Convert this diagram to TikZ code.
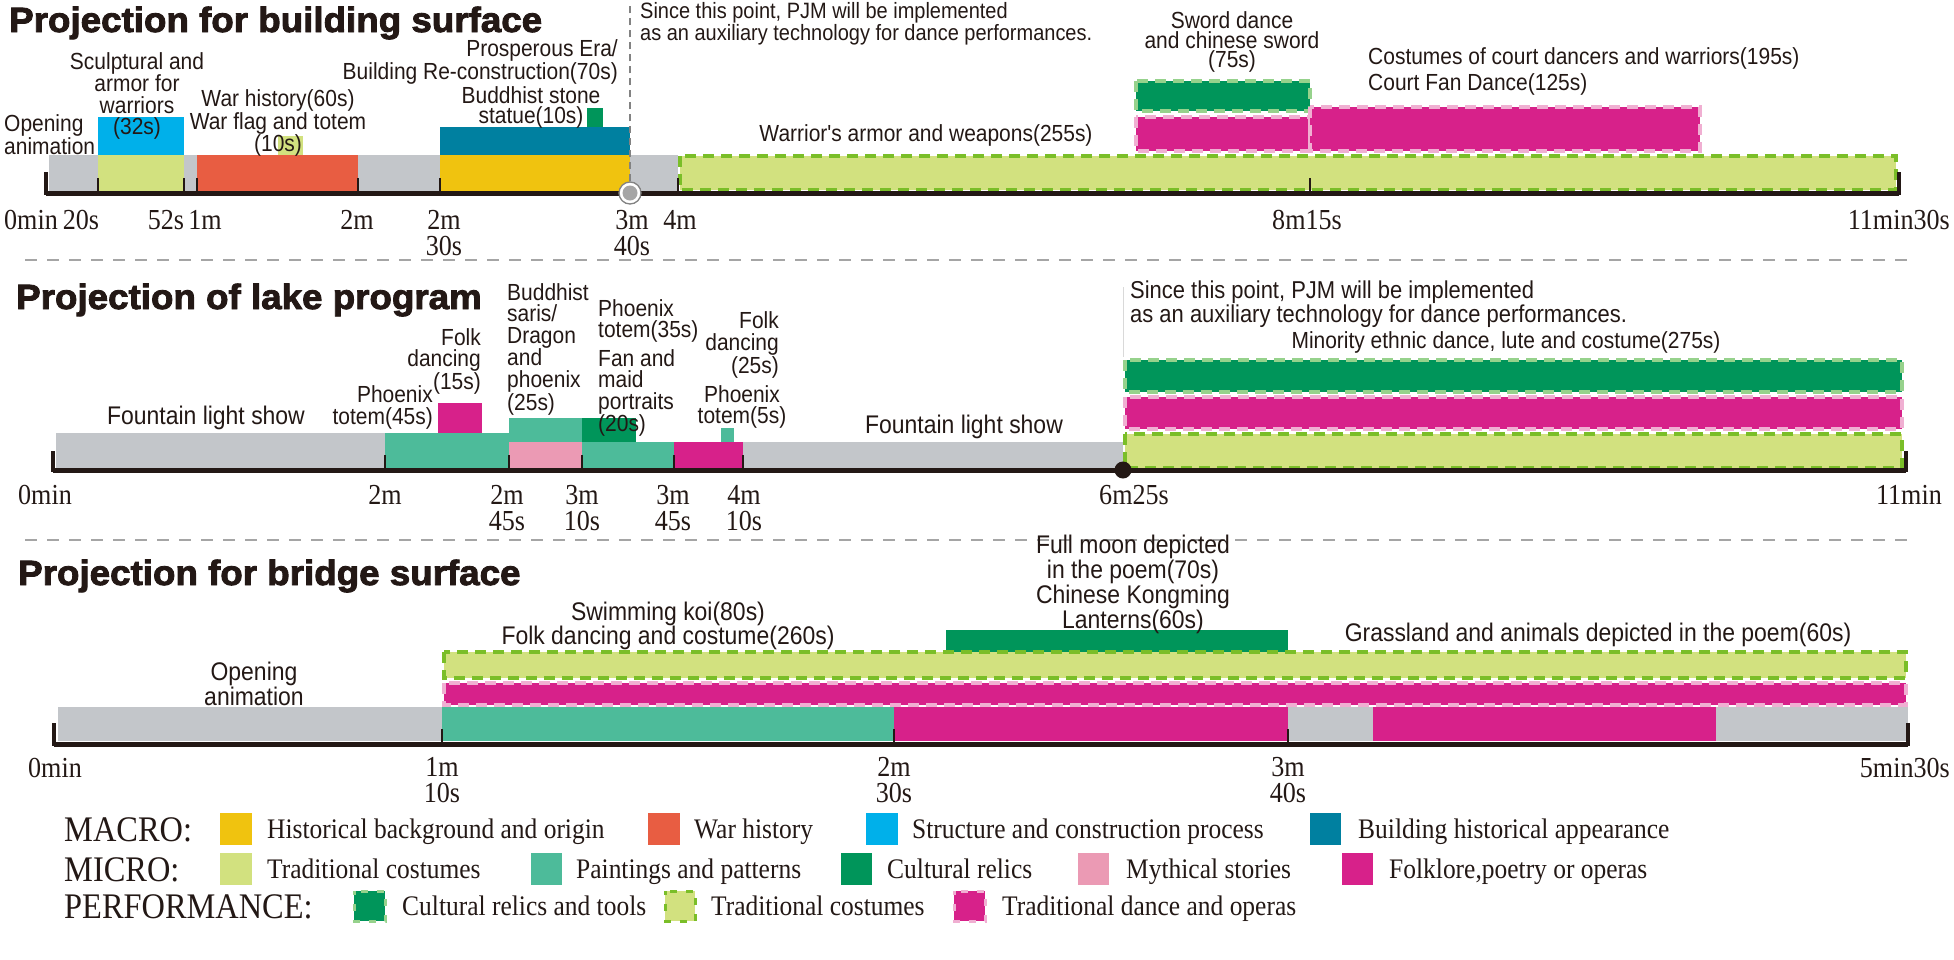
\documentclass[tikz,border=0pt]{standalone}
\usepackage{fontspec}
\setmainfont{Liberation Serif}[FakeStretch=0.9]
\newfontfamily\labfont{Liberation Sans}[FakeStretch=0.9]
\newfontfamily\ttlfont{Liberation Sans}[FakeStretch=1.05,FakeBold=2.5]
\definecolor{cgray}{RGB}{195,198,202}
\definecolor{cyellow}{RGB}{240,195,15}
\definecolor{cred}{RGB}{232,93,66}
\definecolor{cblue}{RGB}{0,176,234}
\definecolor{cteal}{RGB}{0,128,160}
\definecolor{clgreen}{RGB}{210,225,127}
\definecolor{cpaint}{RGB}{77,187,154}
\definecolor{cdgreen}{RGB}{0,149,90}
\definecolor{cpink}{RGB}{235,154,180}
\definecolor{cmag}{RGB}{215,33,138}
\definecolor{bdlg}{RGB}{122,190,40}
\definecolor{bddg}{RGB}{150,210,140}
\definecolor{bdmag}{RGB}{240,175,210}
\definecolor{axiscol}{RGB}{35,24,21}
\definecolor{sepgray}{RGB}{165,165,165}
\definecolor{circfill}{RGB}{165,165,165}
\definecolor{circedge}{RGB}{130,130,130}
\tikzset{
  lab/.style={font=\labfont\fontsize{23.3}{21.5}\selectfont, inner sep=0pt, text=axiscol},
  labbig/.style={font=\labfont\fontsize{25.5}{21}\selectfont, inner sep=0pt, text=axiscol},
  ttl/.style={font=\ttlfont\bfseries\fontsize{35}{36}\selectfont, inner sep=0pt, anchor=base west, text=axiscol},
  tlab/.style={font=\fontsize{29}{26}\selectfont, inner sep=0pt, align=center, text=axiscol},
  leghead/.style={font=\fontsize{36}{36}\selectfont, inner sep=0pt, anchor=base west, text=axiscol},
  legtext/.style={font=\fontsize{28.3}{28}\selectfont, inner sep=0pt, anchor=base west, text=axiscol},
  pdash/.style={line width=3.5pt, dash pattern=on 11pt off 7pt},
  plg/.style={pdash, fill=clgreen, draw=bdlg},
  pdg/.style={pdash, fill=cdgreen, draw=bddg},
  pmg/.style={pdash, fill=cmag, draw=bdmag},
  legdash/.style={line width=3pt, dash pattern=on 7pt off 9pt, dash phase=3.5pt},
  axisline/.style={line width=5pt, draw=axiscol},
  endtick/.style={line width=4pt, draw=axiscol},
  intick/.style={line width=2pt, draw=axiscol},
  sepline/.style={line width=2.5pt, draw=sepgray, dash pattern=on 12pt off 10pt},
  vdash/.style={line width=1.5pt, draw=circedge, dash pattern=on 7pt off 5pt},
}
\begin{document}
\begin{tikzpicture}[x=1pt,y=-1pt]
\useasboundingbox (0,0) rectangle (1954,959);

% ================= Section 1 =================
\node[ttl] (t1) at (9,32) {Projection for building surface};
\fill[cgray] (49,155) rectangle (678,191);
\fill[clgreen] (98,155) rectangle (184,191);
\fill[cblue] (98,117) rectangle (184,155);
\fill[cred] (197,155) rectangle (358,191);
\fill[clgreen] (278,136) rectangle (303,155);
\fill[cyellow] (440,155) rectangle (630,191);
\fill[cteal] (440,127) rectangle (630,155);
\fill[cdgreen] (587,108) rectangle (603,127);
\filldraw[plg] (680,156) rectangle (1896,190);
\filldraw[pdg] (1136,81) rectangle (1310,111);
\filldraw[pmg] (1136,117) rectangle (1310,151);
\filldraw[pmg] (1310,107) rectangle (1700,151);
\coordinate (a1l) at (46,193);
\coordinate (a1r) at (1899,193);
\draw[axisline] (a1l) -- (a1r);
\draw[endtick] (46,172) -- (46,195);
\draw[endtick] (1899,172) -- (1899,195);
\foreach \x in {98,184,197,358,440,678,1310} \draw[intick] (\x,193) -- (\x,178);
\coordinate (v1top) at (630,4);
\node[circle, inner sep=0pt, minimum size=22pt, fill=white, draw=circedge, line width=1.3pt] (c1) at (630,193) {};
\node[circle, inner sep=0pt, minimum size=15pt, fill=circfill] (c1in) at (c1) {};
\draw[vdash] (c1.north) -- (v1top);

\node[lab, anchor=west, align=left] (s1open) at (4,135) {Opening\\animation};
\node[lab, align=center] (s1sculp) at (137,96) {Sculptural and\\armor for\\warriors\\(32s)};
\node[lab, align=center, font=\labfont\fontsize{23.3}{19.5}\selectfont] (s1war) at (278,123) {War history(60s)\\War flag and totem\\(10s)};
\node[lab, anchor=east, align=right, font=\labfont\fontsize{23.3}{20}\selectfont] (s1pros) at (618,62) {Prosperous Era/\\Building Re-construction(70s)};
\node[lab, align=center, font=\labfont\fontsize{23.3}{20}\selectfont] (s1budd) at (531,107) {Buddhist stone\\statue(10s)};
\node[lab, anchor=west, align=left, font=\labfont\fontsize{22.2}{18}\selectfont] (s1since) at (640,24) {Since this point, PJM will be implemented\\as an auxiliary technology for dance performances.};
\node[lab] (s1warrior) at (926,135) {Warrior's armor and weapons(255s)};
\node[lab, align=center, font=\labfont\fontsize{23.3}{19.5}\selectfont] (s1sword) at (1232,42) {Sword dance\\and chinese sword\\(75s)};
\node[lab, anchor=west] (s1cost) at (1368,58) {Costumes of court dancers and warriors(195s)};
\node[lab, anchor=west] (s1fan) at (1368,84) {Court Fan Dance(125s)};

\node[tlab] (k1a) at (31,220) {0min};
\node[tlab] (k1b) at (81,220) {20s};
\node[tlab] (k1c) at (166,220) {52s};
\node[tlab] (k1d) at (205,220) {1m};
\node[tlab] (k1e) at (357,220) {2m};
\node[tlab] (k1f) at (444,233) {2m\\30s};
\node[tlab] (k1g) at (632,233) {3m\\40s};
\node[tlab] (k1h) at (680,220) {4m};
\node[tlab] (k1i) at (1307,220) {8m15s};
\node[tlab, anchor=east] (k1j) at (1950,220) {11min30s};

% ================= Section 2 =================
\coordinate (sp1l) at (25,260);
\coordinate (sp1r) at (1908,260);
\draw[sepline] (sp1l) -- (sp1r);
\node[ttl] (t2) at (16,309) {Projection of lake program};
\fill[cgray] (56,433) rectangle (385,469);
\fill[cpaint] (385,433) rectangle (509,469);
\fill[cmag] (438,403) rectangle (482,433);
\fill[cpaint] (509,418) rectangle (582,442);
\fill[cpink] (509,442) rectangle (582,469);
\fill[cdgreen] (582,418) rectangle (636,442);
\fill[cpaint] (582,442) rectangle (674,469);
\fill[cmag] (674,442) rectangle (743,469);
\fill[cpaint] (721,428) rectangle (734,442);
\fill[cgray] (743,442) rectangle (1123,469);
\filldraw[pdg] (1125,360) rectangle (1902,392);
\filldraw[pmg] (1125,397) rectangle (1902,429);
\filldraw[plg] (1125,434) rectangle (1902,468);
\coordinate (a2l) at (53,470);
\coordinate (a2r) at (1906,470);
\draw[axisline] (a2l) -- (a2r);
\draw[endtick] (53,451) -- (53,472);
\draw[endtick] (1906,451) -- (1906,472);
\foreach \x in {385,509,582,674,743} \draw[intick] (\x,470) -- (\x,455);
\node[circle, inner sep=0pt, minimum size=17pt, fill=axiscol] (d2) at (1123,470) {};
\coordinate (v2top) at (1123,287);
\draw[line width=0.8pt, draw=black!15] (v2top) -- (1123,357);

\node[labbig] (s2f1) at (206,418) {Fountain light show};
\node[lab, anchor=east, align=right] (s2ph45) at (433,407.5) {Phoenix\\totem(45s)};
\node[lab, anchor=east, align=right] (s2folk15) at (481,361.5) {Folk\\dancing\\(15s)};
\node[lab, anchor=west, align=left] (s2budd) at (507,349) {Buddhist\\saris/\\Dragon\\and\\phoenix\\(25s)};
\node[lab, anchor=west, align=left] (s2ph35) at (598,321) {Phoenix\\totem(35s)};
\node[lab, anchor=west, align=left] (s2fan) at (598,393) {Fan and\\maid\\portraits\\(20s)};
\node[lab, anchor=east, align=right] (s2folk25) at (779,345) {Folk\\dancing\\(25s)};
\node[lab, align=center] (s2ph5) at (742,407) {Phoenix\\totem(5s)};
\node[labbig] (s2f2) at (964,427) {Fountain light show};
\node[lab, anchor=west, align=left, font=\labfont\fontsize{24.4}{22}\selectfont] (s2since) at (1130,304) {Since this point, PJM will be implemented\\as an auxiliary technology for dance performances.};
\node[lab] (s2min) at (1506,342) {Minority ethnic dance, lute and costume(275s)};

\node[tlab] (k2a) at (45,495) {0min};
\node[tlab] (k2b) at (385,495) {2m};
\node[tlab] (k2c) at (507,508) {2m\\45s};
\node[tlab] (k2d) at (582,508) {3m\\10s};
\node[tlab] (k2e) at (673,508) {3m\\45s};
\node[tlab] (k2f) at (744,508) {4m\\10s};
\node[tlab] (k2g) at (1134,495) {6m25s};
\node[tlab, anchor=east] (k2h) at (1942,495) {11min};

% ================= Section 3 =================
\coordinate (sp2l) at (25,540);
\coordinate (sp2r) at (1908,540);
\draw[sepline] (sp2l) -- (sp2r);
\node[ttl] (t3) at (18,585) {Projection for bridge surface};
\fill[cgray] (58,707) rectangle (442,741);
\fill[cpaint] (442,707) rectangle (894,741);
\fill[cmag] (894,707) rectangle (1288,741);
\fill[cgray] (1288,707) rectangle (1373,741);
\fill[cmag] (1373,707) rectangle (1716,741);
\fill[cgray] (1716,707) rectangle (1908,741);
\fill[cdgreen] (946,630) rectangle (1288,653);
\filldraw[plg] (444,652) rectangle (1906,678);
\filldraw[pmg] (444,683) rectangle (1906,705);
\coordinate (a3l) at (54,744);
\coordinate (a3r) at (1908,744);
\draw[axisline] (a3l) -- (a3r);
\draw[endtick] (54,723) -- (54,746);
\draw[endtick] (1908,723) -- (1908,746);
\foreach \x in {442,894,1288} \draw[intick] (\x,744) -- (\x,729);

\node[labbig, align=center] (s3open) at (254,683.5) {Opening\\animation};
\node[labbig, align=center, font=\labfont\fontsize{25.5}{20}\selectfont] (s3koi) at (668,626) {Swimming koi(80s)\\Folk dancing and costume(260s)};
\node[labbig, align=center] (s3moon) at (1133,584.5) {Full moon depicted\\in the poem(70s)\\Chinese Kongming\\Lanterns(60s)};
\node[labbig] (s3grass) at (1598,635) {Grassland and animals depicted in the poem(60s)};

\node[tlab] (k3a) at (55,768) {0min};
\node[tlab] (k3b) at (442,780) {1m\\10s};
\node[tlab] (k3c) at (894,780) {2m\\30s};
\node[tlab] (k3d) at (1288,780) {3m\\40s};
\node[tlab, anchor=east] (k3e) at (1950,768) {5min30s};

% ================= Legend =================
\node[leghead] (hmac) at (64,841) {MACRO:};
\node[leghead] (hmic) at (64,881) {MICRO:};
\node[leghead] (hper) at (64,918) {PERFORMANCE:};

\fill[cyellow] (220,813) rectangle (252,845);
\node[legtext] (l1) at (267,838) {Historical background and origin};
\fill[cred] (648,813) rectangle (680,845);
\node[legtext] (l2) at (694,838) {War history};
\fill[cblue] (866,813) rectangle (898,845);
\node[legtext] (l3) at (912,838) {Structure and construction process};
\fill[cteal] (1310,813) rectangle (1341,845);
\node[legtext] (l4) at (1358,838) {Building historical appearance};

\fill[clgreen] (220,853) rectangle (252,885);
\node[legtext] (m1) at (267,878) {Traditional costumes};
\fill[cpaint] (531,853) rectangle (562,885);
\node[legtext] (m2) at (576,878) {Paintings and patterns};
\fill[cdgreen] (841,853) rectangle (872,885);
\node[legtext] (m3) at (887,878) {Cultural relics};
\fill[cpink] (1078,853) rectangle (1109,885);
\node[legtext] (m4) at (1126,878) {Mythical stories};
\fill[cmag] (1342,853) rectangle (1373,885);
\node[legtext] (m5) at (1389,878) {Folklore,poetry or operas};

\filldraw[legdash, fill=cdgreen, draw=bddg] (354,891) rectangle (385,921);
\node[legtext] (p1) at (402,915) {Cultural relics and tools};
\filldraw[legdash, fill=clgreen, draw=bdlg] (665,891) rectangle (695,921);
\node[legtext] (p2) at (711,915) {Traditional costumes};
\filldraw[legdash, fill=cmag, draw=bdmag] (954,891) rectangle (985,921);
\node[legtext] (p3) at (1002,915) {Traditional dance and operas};
\end{tikzpicture}
\end{document}
